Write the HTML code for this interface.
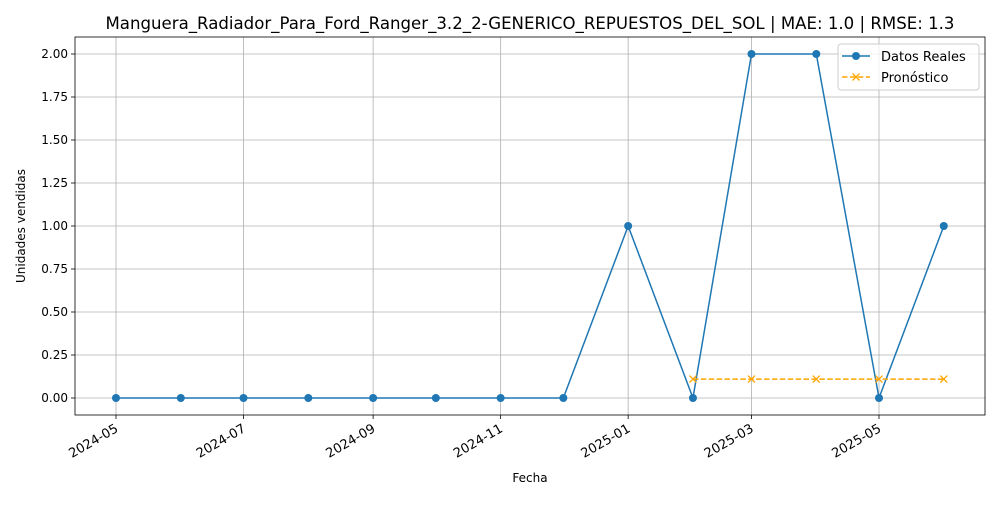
<!DOCTYPE html>
<html><head><meta charset="utf-8"><style>
body{margin:0;background:#fff;font-family:"Liberation Sans","DejaVu Sans",sans-serif}
svg text{font-family:"DejaVu Sans","Liberation Sans",sans-serif}
</style></head><body>
<svg id="c" width="1000" height="500" xmlns="http://www.w3.org/2000/svg"></svg>
<script>
const dates=["2024-05-01","2024-06-01","2024-07-01","2024-08-01","2024-09-01","2024-10-01","2024-11-01","2024-12-01","2025-01-01","2025-02-01","2025-03-01","2025-04-01","2025-05-01","2025-06-01"];
const actual=[0,0,0,0,0,0,0,0,1,0,2,2,0,1];
const fcDates=["2025-02-01","2025-03-01","2025-04-01","2025-05-01","2025-06-01"];
const forecast=[0.11,0.11,0.11,0.11,0.11];
const xTicks=["2024-05","2024-07","2024-09","2024-11","2025-01","2025-03","2025-05"];
const yTicks=[0,0.25,0.5,0.75,1,1.25,1.5,1.75,2];
const L=75,R=985,T=37,B=415;
const d0=Date.parse("2024-05-01"),d1=Date.parse("2025-05-01");
const x=d=>116+(Date.parse(d)-d0)/(d1-d0)*763;
const y=v=>398-v*172;
const svg=document.getElementById('c');const NS="http://www.w3.org/2000/svg";
function mk(t,a,p){const e=document.createElementNS(NS,t);for(const k in a)e.setAttribute(k,a[k]);(p||svg).appendChild(e);return e;}
const grid=mk('g',{});


xTicks.forEach(t=>{const px=x(t+"-01");
mk('line',{x1:px,x2:px,y1:T,y2:B,stroke:'#b0b0b0','stroke-width':0.8},grid);
mk('line',{x1:px,x2:px,y1:B,y2:B+4,stroke:'#000','stroke-width':0.8});
const ax0=px+3,ay0=B+16;
const tx=mk('text',{x:ax0,y:ay0,'font-size':13,'text-anchor':'end',transform:`rotate(-30 ${ax0} ${ay0})`});


tx.textContent=t;});
yTicks.forEach(v=>{const py=y(v);
mk('line',{x1:L,x2:R,y1:py,y2:py,stroke:'#b0b0b0','stroke-width':0.8},grid);
mk('line',{x1:L-4,x2:L,y1:py,y2:py,stroke:'#000','stroke-width':0.8});
const tx=mk('text',{x:L-7,y:py+4,'font-size':12,'text-anchor':'end'});


tx.textContent=v.toFixed(2);});
const ax=mk('rect',{x:L,y:T,width:R-L,height:B-T,fill:'none',stroke:'#000','stroke-width':0.8});


const la=mk('polyline',{points:dates.map((d,i)=>x(d)+','+y(actual[i])).join(' '),fill:'none',stroke:'#1f77b4','stroke-width':1.5});


dates.forEach((d,i)=>{const c=mk('circle',{cx:x(d),cy:y(actual[i]),r:4,fill:'#1f77b4'});

});
const lf=mk('polyline',{points:fcDates.map((d,i)=>x(d)+','+y(forecast[i])).join(' '),fill:'none',stroke:'orange','stroke-width':1.5,'stroke-dasharray':'5.5,2.4'});


function cross(cx,cy,p){mk('path',{d:`M${cx-3.5},${cy-3.5}L${cx+3.5},${cy+3.5}M${cx-3.5},${cy+3.5}L${cx+3.5},${cy-3.5}`,stroke:'orange','stroke-width':1.3},p);}
fcDates.forEach((d,i)=>{const g=mk('g',{});


cross(x(d),y(forecast[i]),g);});
const title=mk('text',{x:530,y:29,'font-size':16.6,'text-anchor':'middle'});


title.textContent="Manguera_Radiador_Para_Ford_Ranger_3.2_2-GENERICO_REPUESTOS_DEL_SOL | MAE: 1.0 | RMSE: 1.3";
const xt=mk('text',{x:530,y:482,'font-size':12,'text-anchor':'middle'});


xt.textContent="Fecha";
const yt=mk('text',{x:25,y:226,'font-size':12,'text-anchor':'middle',transform:'rotate(-90 25 226)'});


yt.textContent="Unidades vendidas";
const lg=mk('g',{});


mk('rect',{x:838,y:44,width:141,height:46,rx:3,fill:'#fff','fill-opacity':0.8,stroke:'#ccc'},lg);
mk('line',{x1:842,x2:870,y1:56,y2:56,stroke:'#1f77b4','stroke-width':1.5},lg);
mk('circle',{cx:856,cy:56,r:4,fill:'#1f77b4'},lg);
const t1=mk('text',{x:881,y:61,'font-size':13},lg);


t1.textContent="Datos Reales";
mk('line',{x1:842,x2:870,y1:77,y2:77,stroke:'orange','stroke-width':1.5,'stroke-dasharray':'5.5,2.4'},lg);
cross(856,77,lg);
const t2=mk('text',{x:881,y:82,'font-size':13},lg);


t2.textContent="Pronóstico";
</script>
</body></html>
